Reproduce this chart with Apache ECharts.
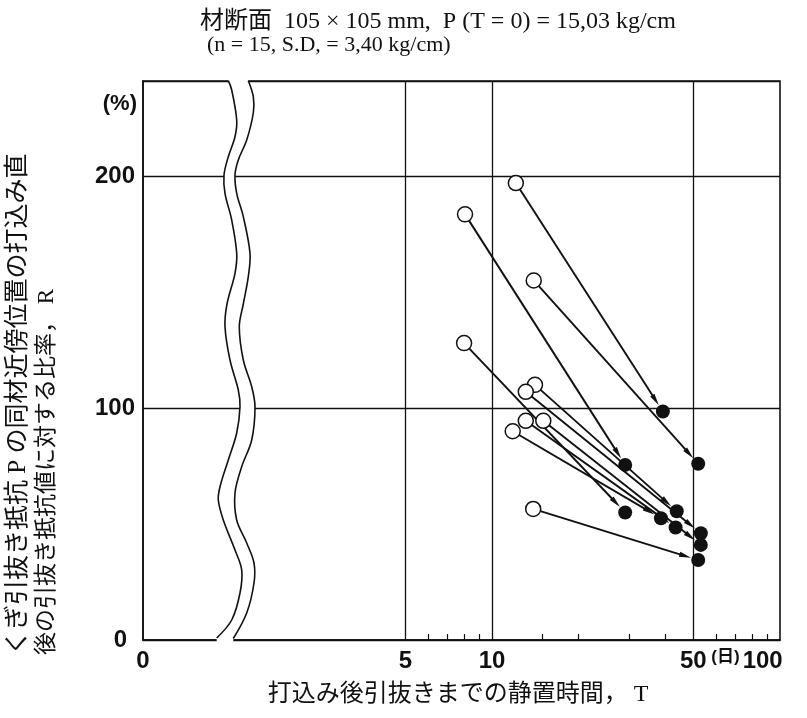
<!DOCTYPE html>
<html>
<head>
<meta charset="utf-8">
<title>くぎ引抜き抵抗の比率</title>
<script src="https://cdn.jsdelivr.net/npm/echarts@6/dist/echarts.min.js"></script>
<style>
  html, body { margin: 0; padding: 0; background: #fff; }
  #chart { width: 807px; height: 718px; }
</style>
</head>
<body>
<div id="chart"></div>
<script>
// 白丸: 打込み直後, 静置時間 T (日) と比率 R (%)
const startT = [12.1, 8.06, 13.96, 8.0, 14.1, 13.1, 13.1, 15.07, 11.8, 13.9];
const startR = [197, 183.5, 155, 128, 110, 107, 94.5, 94.5, 90, 56.5];
// 黒丸: 引抜き時
const endT = [39.2, 29.0, 52.0, 29.0, 43.8, 53.1, 43.4, 53.1, 38.6, 52.0];
const endR = [98.5, 75.5, 76, 55, 55.5, 46, 48.5, 41, 52.5, 34.5];

// 軸
const xMin = 0.614;            // 軸の左端 = "0" の位置 (途中省略)
const xMax = 100;
const xGridValues = [5, 10, 50];
const xLabelValues = [xMin, 5, 10, 50, 100];
const xMinorTicks = [6, 7, 8, 9, 15, 20, 30, 40, 60, 70, 80, 90];
const yMax = 241;
const yStep = 100;

const INK = '#111';
const sansFont = '"Liberation Sans", Arial, sans-serif';
const jpFont = '"Liberation Serif", "Noto Sans CJK JP", serif';

// 省略記号 (波線) の形
const breakLeft = [[228.3, 80.7], [231.7, 90], [236.7, 120], [235, 136.7], [228.3, 156.7], [224, 175], [225, 193.3],
  [231.7, 220], [236.7, 253.3], [235, 273.3], [227, 304], [225, 326.7], [230, 360], [238.3, 390], [240, 406.7],
  [236.7, 433], [228.3, 460], [220, 486.7], [218.3, 500], [223.3, 520], [235, 550], [241.7, 570], [240, 593],
  [231.7, 620], [216.7, 638]];
const breakRight = [[248.3, 80.7], [253.3, 96.7], [253.3, 113], [246.7, 140], [238.3, 160], [235, 175], [236.7, 193.3],
  [243.3, 216.7], [250, 253.3], [248.3, 276.7], [243.3, 304], [239.3, 326.7], [243.3, 360], [251.7, 386.7], [255, 406.7],
  [251.7, 440], [241.7, 466.7], [235, 493], [236.7, 520], [246.7, 543], [254, 563], [254, 583], [246.7, 613],
  [233.3, 638.5]];
const breakFill = [[228.3, 77]].concat(breakLeft, [[216.7, 643], [233.3, 643]], breakRight.slice().reverse(), [[248.3, 77]]);

// 矢印 (白丸 -> 黒丸)
function renderArrow(params, api) {
  const p0 = api.coord([api.value(0), api.value(1)]);
  const p1 = api.coord([api.value(2), api.value(3)]);
  const dx = p1[0] - p0[0], dy = p1[1] - p0[1];
  const len = Math.sqrt(dx * dx + dy * dy);
  const ux = dx / len, uy = dy / len;
  const tip = [p1[0] - ux * 7.5, p1[1] - uy * 7.5];
  const base = [tip[0] - ux * 12, tip[1] - uy * 12];
  const nx = -uy * 2.6, ny = ux * 2.6;
  return {
    type: 'group',
    children: [
      {type: 'line', shape: {x1: p0[0], y1: p0[1], x2: base[0] + ux * 2, y2: base[1] + uy * 2},
        style: {stroke: INK, lineWidth: 1.9}},
      {type: 'polygon', shape: {points: [tip, [base[0] + nx, base[1] + ny], [base[0] - nx, base[1] - ny]]},
        style: {fill: INK}}
    ]
  };
}

const chart = echarts.init(document.getElementById('chart'));
chart.setOption({
  animation: false,
  backgroundColor: '#fff',
  grid: {left: 143, right: 27, top: 81, bottom: 78, show: true, borderColor: INK, borderWidth: 1.6},
  xAxis: {
    type: 'log',
    logBase: 10,
    min: xMin,
    max: xMax,
    axisLine: {lineStyle: {color: INK, width: 1.6}},
    splitLine: {show: false},
    minorTick: {show: false},
    axisTick: {show: true, inside: true, length: 6, customValues: xMinorTicks, lineStyle: {color: INK, width: 1.2}},
    axisLabel: {
      customValues: xLabelValues,
      margin: 9,
      color: INK,
      fontFamily: sansFont,
      fontWeight: 'bold',
      fontSize: 24,
      formatter: v => v < 1 ? '0' : (v === 100 ? '{u|(日)}{n|100}' : String(v)),
      rich: {
        u: {fontSize: 17, fontFamily: '"Liberation Sans", "Noto Sans CJK JP", sans-serif', color: INK,
          verticalAlign: 'top', padding: [0, 3, 4, 0]},
        n: {fontSize: 24, fontWeight: 'bold', fontFamily: sansFont, color: INK, padding: [0, 66, 0, 0]}
      }
    }
  },
  yAxis: {
    type: 'value',
    min: 0,
    max: yMax,
    interval: yStep,
    axisLine: {show: true, lineStyle: {color: INK, width: 1.6}},
    axisTick: {show: false},
    splitLine: {lineStyle: {color: INK, width: 1.3}},
    axisLabel: {
      margin: 8,
      color: INK,
      fontFamily: sansFont,
      fontWeight: 'bold',
      fontSize: 24,
      formatter: v => v % yStep !== 0 ? '' : (v === 0 ? '{z|0}' : String(v)),
      rich: {z: {fontSize: 24, fontWeight: 'bold', fontFamily: sansFont, color: INK, padding: [0, 8, 0, 0]}}
    }
  },
  series: [
    {
      // 縦の格子線 (5, 10, 50 日)
      type: 'line',
      data: [],
      z: 1,
      markLine: {
        silent: true,
        symbol: 'none',
        label: {show: false},
        lineStyle: {color: INK, width: 1.3, type: 'solid'},
        data: xGridValues.map(v => ({xAxis: v}))
      }
    },
    {
      type: 'custom',
      z: 3,
      renderItem: renderArrow,
      encode: {x: [0, 2], y: [1, 3]},
      data: startT.map((t, i) => [t, startR[i], endT[i], endR[i]])
    },
    {
      type: 'scatter',
      z: 4,
      symbol: 'circle',
      symbolSize: 14,
      itemStyle: {color: INK, opacity: 1},
      data: endT.map((t, i) => [t, endR[i]])
    },
    {
      type: 'scatter',
      z: 5,
      symbol: 'circle',
      symbolSize: 15,
      itemStyle: {color: '#fff', borderColor: INK, borderWidth: 1.5, opacity: 1},
      data: startT.map((t, i) => [t, startR[i]])
    }
  ],
  graphic: [
    {type: 'polygon', z: 100, shape: {points: breakFill}, style: {fill: '#fff', stroke: null}},
    {type: 'polyline', z: 101, shape: {points: breakLeft, smooth: 0.35}, style: {stroke: INK, lineWidth: 1.6, fill: null}},
    {type: 'polyline', z: 101, shape: {points: breakRight, smooth: 0.35}, style: {stroke: INK, lineWidth: 1.6, fill: null}},
    {type: 'text', x: 137, y: 104, style: {text: '(%)', font: 'bold 22px ' + sansFont, fill: INK, textAlign: 'right', textVerticalAlign: 'middle'}},
    {type: 'text', x: 200, y: 22, style: {text: '材断面  105 × 105 mm,  P (T = 0) = 15,03 kg/cm', font: '24px ' + jpFont, fill: INK, textVerticalAlign: 'middle'}},
    {type: 'text', x: 207, y: 45, style: {text: '(n = 15, S.D, = 3,40 kg/cm)', font: '22px ' + jpFont, fill: INK, textVerticalAlign: 'middle'}},
    {type: 'text', x: 18, y: 655, rotation: Math.PI / 2, style: {text: 'くぎ引抜き抵抗 P の同材近傍位置の打込み直', font: '25px ' + jpFont, fill: INK, textAlign: 'left', textVerticalAlign: 'middle'}},
    {type: 'text', x: 47, y: 655, rotation: Math.PI / 2, style: {text: '後の引抜き抵抗値に対する比率， R', font: '23px ' + jpFont, fill: INK, textAlign: 'left', textVerticalAlign: 'middle'}},
    {type: 'text', x: 458, y: 695, style: {text: '打込み後引抜きまでの静置時間， T', font: '24px ' + jpFont, fill: INK, textAlign: 'center', textVerticalAlign: 'middle'}}
  ]
});
</script>
</body>
</html>
